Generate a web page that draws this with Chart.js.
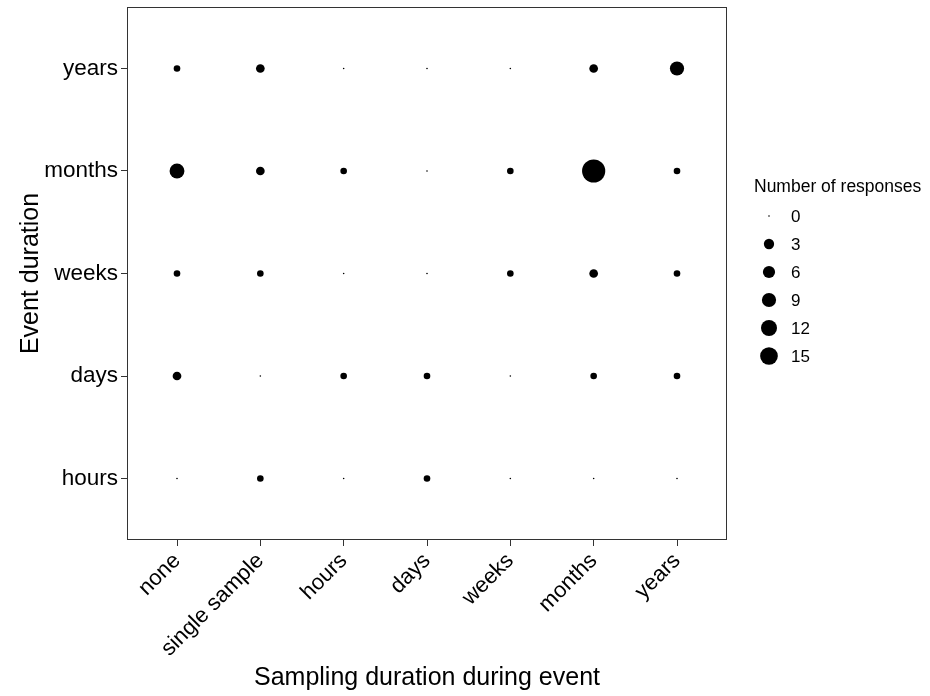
<!DOCTYPE html>
<html>
<head>
<meta charset="utf-8">
<script src="https://cdn.jsdelivr.net/npm/chart.js@4/dist/chart.umd.min.js"></script>
<style>
  html, body { margin: 0; padding: 0; background: #ffffff; }
  #wrap { width: 930px; height: 696px; position: relative; }
</style>
</head>
<body>
<div id="wrap"><canvas id="c" width="930" height="696"></canvas></div>
<script>
// ---- Data ----
const xCategories = ['none', 'single sample', 'hours', 'days', 'weeks', 'months', 'years'];
const yCategories = ['hours', 'days', 'weeks', 'months', 'years'];
// counts for each event duration row, ordered by xCategories
const countsHours  = [0, 1, 0, 1, 0, 0, 0];
const countsDays   = [2, 0, 1, 1, 0, 1, 1];
const countsWeeks  = [1, 1, 0, 0, 1, 2, 1];
const countsMonths = [10, 2, 1, 0, 1, 27, 1];
const countsYears  = [1, 2, 0, 0, 0, 2, 9];
const legendBreaks = [0, 3, 6, 9, 12, 15];
const xTitle = 'Sampling duration during event';
const yTitle = 'Event duration';
const legendTitle = 'Number of responses';

const rows = [countsHours, countsDays, countsWeeks, countsMonths, countsYears];

// ---- size mapping (diameter in px from value, interpolated in sqrt space) ----
const sizeAnchors = [[0, 1.6], [3, 10.3], [6, 12.2], [9, 14.2], [12, 16.0], [15, 17.7]];
function diameter(v) {
  const s = Math.sqrt(v);
  for (let i = 1; i < sizeAnchors.length; i++) {
    const s0 = Math.sqrt(sizeAnchors[i - 1][0]), s1 = Math.sqrt(sizeAnchors[i][0]);
    if (s <= s1) {
      const t = (s - s0) / (s1 - s0);
      return sizeAnchors[i - 1][1] + t * (sizeAnchors[i][1] - sizeAnchors[i - 1][1]);
    }
  }
  const a = sizeAnchors[sizeAnchors.length - 2], b = sizeAnchors[sizeAnchors.length - 1];
  const slope = (b[1] - a[1]) / (Math.sqrt(b[0]) - Math.sqrt(a[0]));
  return b[1] + slope * (s - Math.sqrt(b[0]));
}

const points = [];
rows.forEach((row, yi) => row.forEach((v, xi) => points.push({ x: xi, y: yi, v: v })));

const FONT = '"Liberation Sans", Arial, Helvetica, sans-serif';

const borderPlugin = {
  id: 'panelBorder',
  beforeDatasetsDraw(chart) {
    const { ctx, chartArea: a } = chart;
    ctx.save();
    ctx.strokeStyle = '#333333';
    ctx.lineWidth = 1;
    ctx.strokeRect(Math.round(a.left) + 0.5, Math.round(a.top) + 0.5,
                   Math.round(a.right - a.left) - 1, Math.round(a.bottom - a.top) - 1);
    ctx.restore();
  }
};

const legendPlugin = {
  id: 'sizeLegend',
  afterDraw(chart) {
    const { ctx } = chart;
    ctx.save();
    ctx.fillStyle = '#000000';
    ctx.textBaseline = 'middle';
    ctx.textAlign = 'left';
    ctx.font = '17.5px ' + FONT;
    ctx.fillText(legendTitle, 754, 187);
    ctx.font = '17px ' + FONT;
    legendBreaks.forEach((b, i) => {
      const cy = 216 + i * 28;
      ctx.beginPath();
      ctx.arc(769, cy, diameter(b) / 2, 0, Math.PI * 2);
      ctx.fill();
      ctx.fillText(String(b), 791, cy + 1);
    });
    ctx.restore();
  }
};

function zeroPad(s) { s.paddingTop = 0; s.paddingBottom = 0; s.paddingLeft = 0; s.paddingRight = 0; }

new Chart(document.getElementById('c'), {
  type: 'scatter',
  data: {
    datasets: [{
      data: points,
      backgroundColor: '#000000',
      borderWidth: 0,
      pointRadius: ctx => diameter(ctx.raw.v) / 2,
      pointHoverRadius: ctx => diameter(ctx.raw.v) / 2
    }]
  },
  options: {
    responsive: false,
    animation: false,
    devicePixelRatio: 1,
    layout: { autoPadding: false, padding: { left: 0, right: 203, top: 7, bottom: 0 } },
    plugins: { legend: { display: false }, tooltip: { enabled: false } },
    scales: {
      x: {
        type: 'linear',
        min: -0.6, max: 6.6,
        afterBuildTicks: s => { s.ticks = xCategories.map((_, i) => ({ value: i })); },
        afterFit: s => { s.height = 156; zeroPad(s); },
        grid: { drawOnChartArea: false, drawTicks: true, tickLength: 6, color: '#333333', tickColor: '#333333' },
        border: { display: false },
        ticks: {
          autoSkip: false, maxRotation: 45, minRotation: 45, padding: 2,
          color: '#000000', font: { family: FONT, size: 22 },
          callback: v => xCategories[v]
        },
        title: { display: true, text: xTitle, color: '#000000', font: { family: FONT, size: 25 }, padding: { top: 4, bottom: 3 } }
      },
      y: {
        type: 'linear',
        min: -0.6, max: 4.6,
        afterBuildTicks: s => { s.ticks = yCategories.map((_, i) => ({ value: i })); },
        afterFit: s => { s.width = 127; zeroPad(s); },
        grid: { drawOnChartArea: false, drawTicks: true, tickLength: 6, color: '#333333', tickColor: '#333333' },
        border: { display: false },
        ticks: {
          autoSkip: false, padding: 3,
          color: '#000000', font: { family: FONT, size: 22.5 },
          callback: v => yCategories[v]
        },
        title: { display: true, text: yTitle, color: '#000000', font: { family: FONT, size: 25 }, padding: { top: 16, bottom: 4 } }
      }
    }
  },
  plugins: [borderPlugin, legendPlugin]
});
</script>
</body>
</html>
